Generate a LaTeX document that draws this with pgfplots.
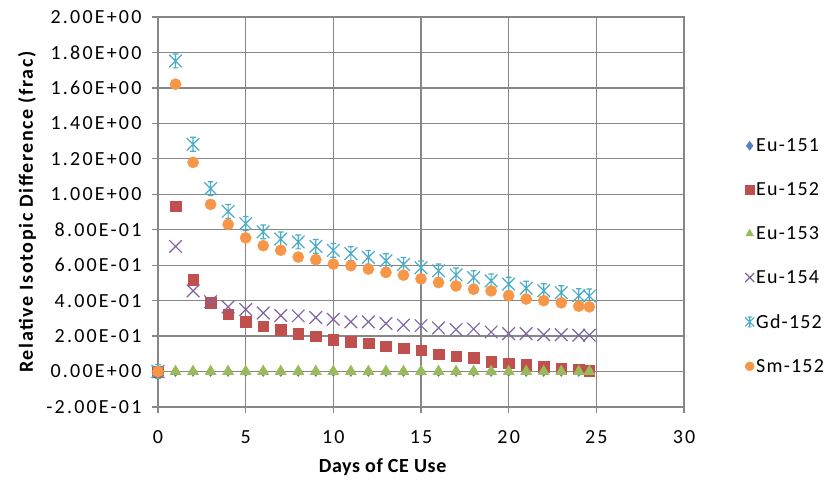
\documentclass[border=0pt]{standalone}
\usepackage{fontspec}
\setmainfont{Carlito}
\usepackage{pgfplots}
\usepackage{pgfplotstable}
\pgfplotsset{compat=1.18}
\definecolor{cA}{HTML}{4F81BD}
\definecolor{cB}{HTML}{C0504D}
\definecolor{cC}{HTML}{9BBB59}
\definecolor{cD}{HTML}{8064A2}
\definecolor{cE}{HTML}{4BACC6}
\definecolor{cF}{HTML}{F79646}
\definecolor{gridgray}{HTML}{878787}
\pgfdeclareplotmark{xlstar}{%
  \pgfpathmoveto{\pgfpoint{-\pgfplotmarksize}{-\pgfplotmarksize}}%
  \pgfpathlineto{\pgfpoint{\pgfplotmarksize}{\pgfplotmarksize}}%
  \pgfpathmoveto{\pgfpoint{-\pgfplotmarksize}{\pgfplotmarksize}}%
  \pgfpathlineto{\pgfpoint{\pgfplotmarksize}{-\pgfplotmarksize}}%
  \pgfpathmoveto{\pgfpoint{0pt}{-1.1\pgfplotmarksize}}%
  \pgfpathlineto{\pgfpoint{0pt}{1.1\pgfplotmarksize}}%
  \pgfpathmoveto{\pgfpoint{-0.45\pgfplotmarksize}{1.1\pgfplotmarksize}}%
  \pgfpathlineto{\pgfpoint{0.45\pgfplotmarksize}{1.1\pgfplotmarksize}}%
  \pgfpathmoveto{\pgfpoint{-0.45\pgfplotmarksize}{-1.1\pgfplotmarksize}}%
  \pgfpathlineto{\pgfpoint{0.45\pgfplotmarksize}{-1.1\pgfplotmarksize}}%
  \pgfusepathqstroke}
\pgfdeclareplotmark{bigx}{%
  \pgfpathmoveto{\pgfpoint{-\pgfplotmarksize}{-\pgfplotmarksize}}%
  \pgfpathlineto{\pgfpoint{\pgfplotmarksize}{\pgfplotmarksize}}%
  \pgfpathmoveto{\pgfpoint{-\pgfplotmarksize}{\pgfplotmarksize}}%
  \pgfpathlineto{\pgfpoint{\pgfplotmarksize}{-\pgfplotmarksize}}%
  \pgfusepathqstroke}
\newfontfamily\tickfont[LetterSpace=11]{Carlito}
\newfontfamily\legfont[LetterSpace=6]{Carlito}
\newfontfamily\ylabfont[LetterSpace=8]{Carlito}
\newfontfamily\xlabfont[LetterSpace=3]{Carlito}
\pgfplotstableread{
day  eua  eub    euc  eud    gd     sm
0    0    0      0    0      0      0
1    0    0.933  0    0.706  1.752  1.621
2    0    0.517  0    0.455  1.282  1.180
3    0    0.390  0    0.394  1.032  0.943
4    0    0.324  0    0.365  0.903  0.830
5    0    0.280  0    0.350  0.835  0.754
6    0    0.256  0    0.330  0.788  0.710
7    0    0.235  0    0.316  0.748  0.684
8    0    0.212  0    0.314  0.731  0.646
9    0    0.200  0    0.305  0.706  0.631
10   0    0.180  0    0.295  0.684  0.606
11   0    0.170  0    0.280  0.665  0.597
12   0    0.159  0    0.280  0.644  0.578
13   0    0.144  0    0.271  0.625  0.559
14   0    0.132  0    0.262  0.604  0.544
15   0    0.121  0    0.259  0.585  0.523
16   0    0.097  0    0.246  0.568  0.502
17   0    0.087  0    0.237  0.545  0.483
18   0    0.078  0    0.240  0.530  0.464
19   0    0.057  0    0.223  0.511  0.455
20   0    0.047  0    0.214  0.493  0.428
21   0    0.038  0    0.214  0.470  0.409
22   0    0.028  0    0.208  0.456  0.400
23   0    0.015  0    0.208  0.445  0.388
24   0    0.013  0    0.205  0.428  0.369
24.6 0    0.006  0    0.205  0.426  0.365
}\datatab
\begin{document}
\begin{tikzpicture}
\begin{axis}[name=ax,
  scale only axis, width=526bp, height=390bp,
  xmin=0, xmax=30, ymin=-0.2, ymax=2.0,
  xtick={0,5,10,15,20,25,30},
  ytick={-0.2,0,0.2,0.4,0.6,0.8,1.0,1.2,1.4,1.6,1.8,2.0},
  yticklabels={-2.00E-01,0.00E+00,2.00E-01,4.00E-01,6.00E-01,8.00E-01,1.00E+00,1.20E+00,1.40E+00,1.60E+00,1.80E+00,2.00E+00},
  /pgf/number format/assume math mode=true,
  grid=major,
  major grid style={color=gridgray, line width=1.3bp},
  axis line style={color=gridgray, line width=1.3bp},
  tick style={color=gridgray, line width=1.3bp},
  tick align=outside, major tick length=6bp,
  xtick pos=bottom, ytick pos=left,
  ticklabel style={font=\tickfont\fontsize{20bp}{24bp}\selectfont},
  xticklabel style={yshift=-14bp},
  yticklabel style={xshift=-7bp},
  xlabel={\xlabfont\fontsize{20bp}{24bp}\selectfont\bfseries Days of CE Use},
  ylabel={\ylabfont\fontsize{20bp}{24bp}\selectfont\bfseries Relative Isotopic Difference (frac)},
  every axis x label/.style={at={(axis description cs:0.427,-0.154)}, anchor=center},
  every axis y label/.style={at={(axis description cs:-0.249,0.5)}, anchor=center, rotate=90},
  legend style={draw=none, at={(1,0.387)}, anchor=west, xshift=61bp, row sep=25.5bp,
    font=\legfont\fontsize{20bp}{24bp}\selectfont, inner sep=0pt},
  legend cell align=left,
  legend image post style={mark size=4.5bp},
]
\addplot[only marks, mark=diamond*, mark size=5bp, color=cA] table[x=day,y=eua]{\datatab};
\addlegendentry{Eu-151}
\addplot[only marks, mark=square*, mark size=5.3bp, color=cB] table[x=day,y=eub]{\datatab};
\addlegendentry{Eu-152}
\addplot[only marks, mark=triangle*, mark size=6.5bp, color=cC] table[x=day,y=euc]{\datatab};
\addlegendentry{Eu-153}
\addplot[only marks, mark=bigx, mark size=6.3bp, color=cD, line width=1.2bp] table[x=day,y=eud]{\datatab};
\addlegendentry{Eu-154}
\addplot[only marks, mark=xlstar, mark size=6.3bp, color=cE, line width=1.2bp] table[x=day,y=gd]{\datatab};
\addlegendentry{Gd-152}
\addplot[only marks, mark=*, mark size=5.6bp, color=cF, mark options={draw=none}] table[x=day,y=sm]{\datatab};
\addlegendentry{Sm-152}
\end{axis}
\pgfresetboundingbox
\path ([xshift=-158bp,yshift=-80bp]ax.south west) rectangle ([xshift=145bp,yshift=17bp]ax.north east);
\end{tikzpicture}
\end{document}
